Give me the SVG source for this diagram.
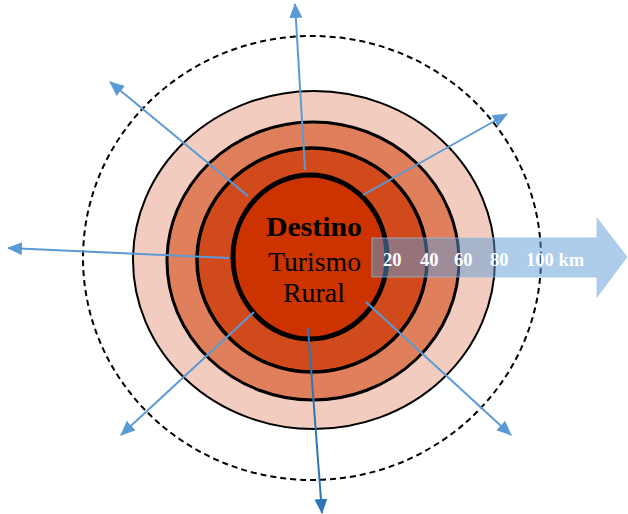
<svg xmlns="http://www.w3.org/2000/svg" width="628" height="514" viewBox="0 0 628 514">
<style>
.ring{stroke:#000;}
.conn{stroke:#5B9BD5;stroke-width:2;fill:none;marker-end:url(#ah);}
.lbl{font-family:"Liberation Serif","Times New Roman",serif;fill:#000;text-anchor:middle;}
.km{font-family:"Liberation Serif","Times New Roman",serif;font-weight:bold;font-size:18.5px;fill:#fff;}
</style>
<defs>
<marker id="ah" markerUnits="userSpaceOnUse" markerWidth="16" markerHeight="14" refX="14" refY="6.5" orient="auto">
<path d="M0,0 L15,6.5 L0,13 z" fill="#5B9BD5"/>
</marker>
<marker id="ahd" markerUnits="userSpaceOnUse" markerWidth="16" markerHeight="14" refX="14" refY="6.5" orient="auto">
<path d="M0,0 L15,6.5 L0,13 z" fill="#2E75B6"/>
</marker>
</defs>
<g id="zona-100">
<ellipse cx="312" cy="258" rx="229" ry="222" fill="none" stroke="#000" stroke-width="2" stroke-dasharray="6 4"/>
</g>
<g id="zona-80">
<ellipse class="ring" cx="314" cy="260" rx="181" ry="169" fill="#F2CDBF" stroke-width="2"/>
</g>
<g id="zona-60">
<ellipse class="ring" cx="313" cy="261" rx="146" ry="139" fill="#E07F5C" stroke-width="3"/>
</g>
<g id="zona-40">
<ellipse class="ring" cx="312" cy="260" rx="115" ry="112" fill="#D14A1B" stroke-width="3.5"/>
</g>
<g id="destino">
<ellipse class="ring" cx="310" cy="257" rx="77" ry="82" fill="#CC3300" stroke-width="5"/>
<text class="lbl" x="314" y="236" font-size="27" font-weight="bold" textLength="96" lengthAdjust="spacingAndGlyphs">Destino</text>
<text class="lbl" x="314.5" y="271" font-size="27" textLength="93" lengthAdjust="spacingAndGlyphs">Turismo</text>
<text class="lbl" x="314" y="302" font-size="27" textLength="62" lengthAdjust="spacingAndGlyphs">Rural</text>
</g>
<g id="connectors">
<line class="conn" x1="305" y1="170" x2="295" y2="4"/>
<line class="conn" x1="248" y1="196" x2="110" y2="82"/>
<line class="conn" x1="363" y1="195" x2="507" y2="114"/>
<line class="conn" x1="229" y1="258" x2="8" y2="248"/>
<line class="conn" x1="254" y1="312" x2="121" y2="435"/>
<line class="conn" x1="366" y1="302" x2="511" y2="435"/>
<line class="conn" x1="308" y1="328" x2="322" y2="513" style="stroke:#2E75B6;marker-end:url(#ahd)"/>
</g>
<g id="escala">
<polygon points="372,238 597,238 597,218 627,257 597,297 597,277 372,277" fill="#5B9BD5" fill-opacity="0.5" stroke="#9DC3E6" stroke-opacity="0.7" stroke-width="1"/>
<text class="km" x="383" y="266">20</text>
<text class="km" x="420" y="266">40</text>
<text class="km" x="454" y="266">60</text>
<text class="km" x="490" y="266">80</text>
<text class="km" x="526" y="266">100 km</text>
</g>
</svg>
